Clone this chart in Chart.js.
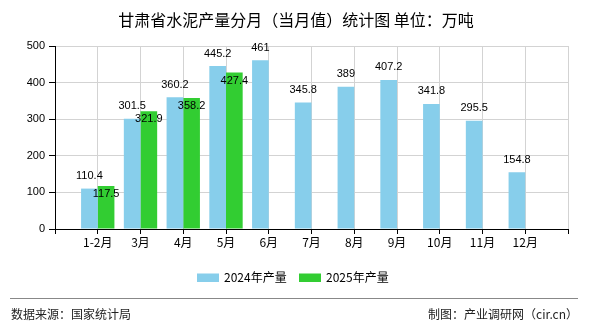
<!DOCTYPE html>
<html>
<head>
<meta charset="utf-8">
<script src="https://cdn.jsdelivr.net/npm/chart.js@4/dist/chart.umd.min.js"></script>
<style>
html,body{margin:0;padding:0;background:#fff;}
#wrap{width:590px;height:330px;position:relative;}
</style>
</head>
<body>
<div id="wrap"><canvas id="c" width="590" height="330"></canvas></div>
<script>
const title = '甘肃省水泥产量分月（当月值）统计图 单位：万吨';
const categories = ['1-2月','3月','4月','5月','6月','7月','8月','9月','10月','11月','12月'];
const series2024Name = '2024年产量';
const series2025Name = '2025年产量';
const values2024 = [110.4, 301.5, 360.2, 445.2, 461, 345.8, 389, 407.2, 341.8, 295.5, 154.8];
const values2025 = [117.5, 321.9, 358.2, 427.4];
const yTickValues = [0, 100, 200, 300, 400, 500];
const sourceText = '数据来源：国家统计局';
const creditText = '制图：产业调研网（cir.cn）';

const COLOR_2024 = '#87CEEB';
const COLOR_2025 = '#32CD32';
const CJK = '"Noto Sans CJK SC", "Liberation Sans", sans-serif';
const NUM = '"Liberation Sans", "DejaVu Sans", sans-serif';

// pad with an empty slot on each side of the axis
const labels = [''].concat(categories, ['']);
function pad(arr){
  const out = [null];
  for (let i = 0; i < categories.length; i++) out.push(i < arr.length ? arr[i] : null);
  out.push(null);
  return out;
}

const decor = {
  id: 'decor',
  beforeDraw(chart){
    const ctx = chart.ctx;
    ctx.save();
    ctx.fillStyle = '#fff';
    ctx.fillRect(0,0,chart.width,chart.height);
    ctx.fillStyle = '#000';
    ctx.font = '16px ' + CJK;
    ctx.textAlign = 'center';
    ctx.textBaseline = 'middle';
    ctx.fillText(title, 296, 20);
    // legend
    const items = [[series2024Name, COLOR_2024, 197], [series2025Name, COLOR_2025, 299]];
    ctx.font = '12px ' + CJK;
    ctx.textAlign = 'left';
    items.forEach(([t, c, x]) => {
      ctx.fillStyle = c;
      ctx.fillRect(x, 273.5, 22, 8.5);
      ctx.fillStyle = '#000';
      ctx.fillText(t, x + 27, 277.5);
    });
    // footer
    ctx.strokeStyle = '#888';
    ctx.lineWidth = 1;
    ctx.beginPath();
    ctx.moveTo(10, 298.5);
    ctx.lineTo(578, 298.5);
    ctx.stroke();
    ctx.fillStyle = '#222';
    ctx.font = '12px ' + CJK;
    ctx.textAlign = 'left';
    ctx.fillText(sourceText, 11, 314);
    ctx.textAlign = 'right';
    ctx.fillText(creditText, 578, 314);
    ctx.restore();
  },
  afterDatasetsDraw(chart){
    const ctx = chart.ctx;
    ctx.save();
    ctx.font = '11px ' + NUM;
    ctx.fillStyle = '#000';
    ctx.textAlign = 'center';
    ctx.textBaseline = 'middle';
    chart.data.datasets.forEach((ds, di) => {
      const meta = chart.getDatasetMeta(di);
      meta.data.forEach((bar, i) => {
        const v = ds.data[i];
        if (v === null || v === undefined) return;
        const y = di === 0 ? bar.y - 12.5 : bar.y + 8;
        ctx.fillText(String(v), bar.x, y);
      });
    });
    ctx.restore();
  }
};

new Chart(document.getElementById('c'), {
  type: 'bar',
  data: {
    labels: labels,
    datasets: [
      { label: series2024Name, data: pad(values2024), backgroundColor: COLOR_2024, borderWidth: 0 },
      { label: series2025Name, data: pad(values2025), backgroundColor: COLOR_2025, borderWidth: 0 }
    ]
  },
  options: {
    responsive: false,
    animation: false,
    devicePixelRatio: 1,
    categoryPercentage: 0.78,
    barPercentage: 1,
    layout: { padding: { left: 0, right: 22, top: 46, bottom: 71 } },
    plugins: { legend: { display: false }, title: { display: false }, tooltip: { enabled: false } },
    scales: {
      x: {
        type: 'category',
        offset: false,
        grid: { offset: false, color: '#d3d3d3', tickColor: '#000', tickLength: 5, lineWidth: 1 },
        border: { color: '#000', width: 1 },
        ticks: { color: '#000', font: { family: CJK, size: 12 }, padding: 1, autoSkip: false, maxRotation: 0 },
        afterFit(scale){ scale.height = 30; }
      },
      y: {
        min: 0, max: 500,
        afterBuildTicks(scale){ scale.ticks = yTickValues.map(v => ({ value: v })); },
        grid: { color: '#d3d3d3', tickColor: '#000', tickLength: 6 },
        border: { color: '#000', width: 1 },
        ticks: { color: '#000', font: { family: NUM, size: 11 }, padding: 4 },
        afterFit(scale){ scale.width = 55; }
      }
    }
  },
  plugins: [decor]
});
</script>
</body>
</html>
